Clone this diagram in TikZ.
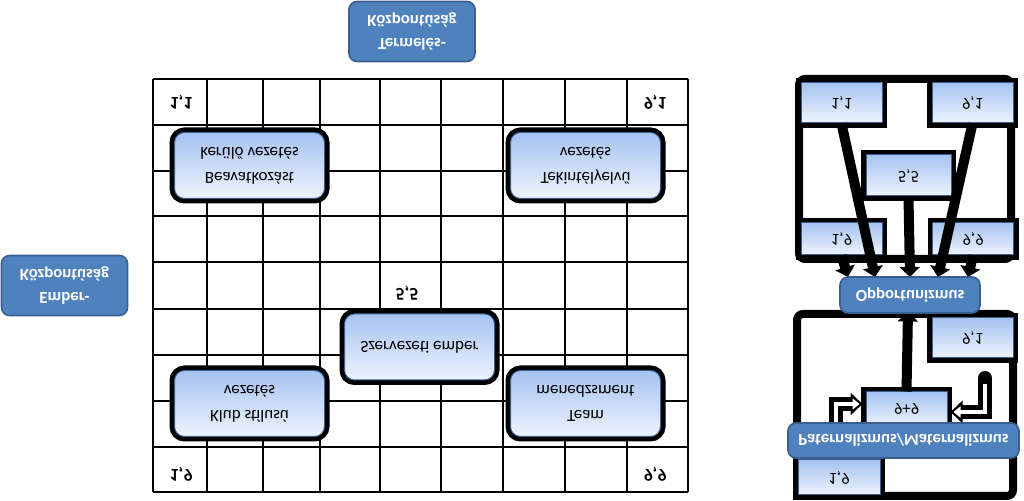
\documentclass[tikz,border=0pt]{standalone}
\usepackage{fontspec}
\setmainfont{Carlito}
\usepackage{tikz}
\usetikzlibrary{calc,arrows.meta}
\definecolor{kek}{HTML}{4F81BD}
\definecolor{kekszel}{HTML}{3A5F8E}
\definecolor{vilagos}{HTML}{A6C3F1}
\definecolor{halvany}{HTML}{EEF3FD}
\tikzset{
  fejlec/.style={fill=kek,draw=kekszel,line width=0.8pt,rounded corners=4pt,text=white,
    font=\bfseries\fontsize{8.4}{11.5}\selectfont,align=center,inner sep=1pt},
  stilus/.style={preaction={draw=black,line width=5pt},draw=kekszel,line width=0.5pt,
    rounded corners=5pt,top color=vilagos,bottom color=halvany,align=center,
    font=\fontsize{8.5}{12.5}\selectfont,minimum width=75pt,minimum height=33pt},
  pont/.style={font=\bfseries\fontsize{9}{10}\selectfont},
  cella/.style={preaction={draw=black,line width=5pt},draw=kekszel,line width=0.5pt,
    top color=vilagos,bottom color=halvany,font=\fontsize{8.4}{9}\selectfont,inner sep=0pt},
  keret/.style={draw=black,line width=4pt,rounded corners=3pt},
  racs/.style={line width=1pt},
  vastag/.style={line width=5pt,-{Triangle[length=5pt,width=10pt]}},
}

\begin{document}
\begin{tikzpicture}[x=0.5pt,y=0.5pt,yscale=-1,every node/.append style={transform shape}]
    \useasboundingbox (0,0) rectangle (1024,501);
    %% the grid
    \foreach \x in {153,207,263,320,380,441,503,565,627,688}
      \draw[racs] (\x,79) -- (\x,492);
    \foreach \y in {79,125,171,216,262,309,355,401,447,492}
      \draw[racs] (153,\y) -- (688,\y);
    \node (termeles) at (412,31.5)[fejlec,minimum width=63pt,minimum height=30pt]{Termelés-\\Központúság};
    \node (ember) at (64.5,285.5)[fejlec,minimum width=63pt,minimum height=30pt]{Ember-\\Központúság};
    \node (beav) at (249.5,165.5)[stilus]{Beavatkozást\\kerülő vezetés};
    \node (klub) at (249.5,403.5)[stilus]{Klub stílusú\\vezetés};
    \node (szerv) at (419.5,347)[stilus]{Szervezeti ember};
    \node (tekint) at (585.5,165.5)[stilus]{Tekintélyelvű\\vezetés};
    \node (team) at (585.5,403.5)[stilus]{Team\\menedzsment};
    \node (p11) at (181,102)[pont]{1,1};
    \node (p91) at (655,102)[pont]{9,1};
    \node (p55) at (407,293)[pont]{5,5};
    \node (p19) at (181,474)[pont]{1,9};
    \node (p99) at (655,474)[pont]{9,9};
    %% opportunizmus
    \draw[keret] (799,79) rectangle (1011,259);
    \node (o11) at (841.5,103)[cella,minimum width=40.5pt,minimum height=20pt]{1,1};
    \node (o91) at (972.5,103)[cella,minimum width=40.5pt,minimum height=20pt]{9,1};
    \node (o55) at (908.5,175.5)[cella,minimum width=42.5pt,minimum height=20.5pt]{5,5};
    \node (o19) at (841.5,239)[cella,minimum width=40.5pt,minimum height=16pt]{1,9};
    \node (o99) at (973,239)[cella,minimum width=40.5pt,minimum height=16pt]{9,9};
    \coordinate (opptop) at (910,277);
    \draw[vastag] (o11.north) -- ($(opptop)+(-35,0)$);
    \draw[vastag] (o91.north) -- ($(opptop)+(28,0)$);
    \draw[vastag] (o55.north) -- (opptop);
    \draw[vastag] (o19.north) -- ($(opptop)+(-62,0)$);
    \draw[vastag] (o99.north) -- ($(opptop)+(58,0)$);
    %% paternalizmus
    \draw[keret] (797,314) rectangle (1013,496);
    \node (q91) at (972.5,338)[cella,minimum width=40.5pt,minimum height=20pt]{9,1};
    \node (q19) at (839,477.5)[cella,minimum width=41pt,minimum height=17.5pt]{1,9};
    \node (q99) at (906.5,409)[cella,minimum width=40.5pt,minimum height=17pt]{9+9};
    \coordinate (bal) at (836,426);
    \coordinate (jobb) at (985,378);
    \draw[line width=7pt,line cap=round,-{Triangle[length=6pt,width=11pt]}] (bal) |- ($(q99.west)+(-3,-5)$);
    \draw[white,line width=2pt,-{Triangle[length=3.5pt,width=5.5pt]}] (bal) |- ($(q99.west)+(-6,-5)$);
    \draw[line width=7pt,line cap=round,-{Triangle[length=6pt,width=11pt]}] (jobb) |- ($(q99.east)+(3,3)$);
    \draw[white,line width=2pt,-{Triangle[length=3.5pt,width=5.5pt]}] ($(jobb)+(0,6)$) |- ($(q99.east)+(6,3)$);
    \draw[vastag] (q99.south) -- ($(q99.south)+(1.5,-80)$);
    \node (opp) at (910,295)[fejlec,minimum width=70pt,minimum height=18pt]{Opportunizmus};
    \node (pat) at (903.5,440.5)[fejlec,minimum width=115.5pt,minimum height=17.5pt]{Paternalizmus/Maternalizmus};
  \end{tikzpicture}
\end{document}
